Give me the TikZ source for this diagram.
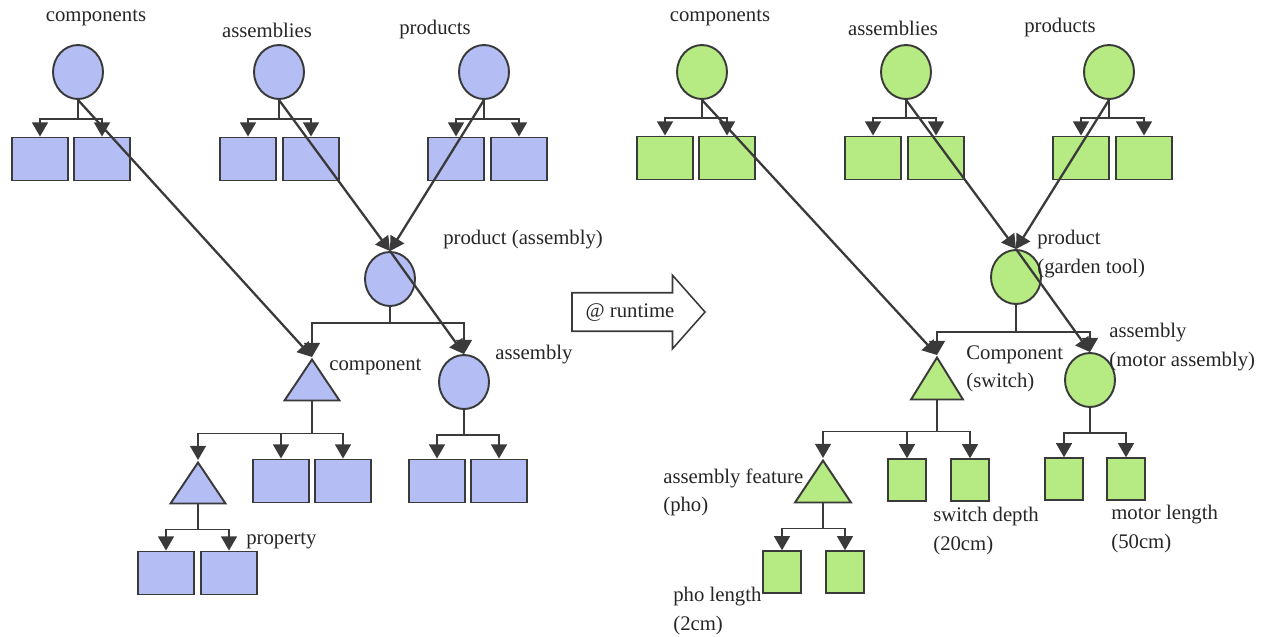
\documentclass[tikz,border=0pt]{standalone}
\usepackage{fontspec}
\setmainfont{Liberation Serif}
\usetikzlibrary{shapes.geometric,shapes.arrows,arrows.meta}
\definecolor{typeblue}{RGB}{180,190,245}
\definecolor{rungreen}{RGB}{182,234,130}
\definecolor{edge}{RGB}{58,58,58}

\begin{document}
\begin{tikzpicture}[x=0.02cm,y=-0.02cm,
  font=\fontsize{11.8}{16}\selectfont,
  kind/.style={ellipse,draw=edge,line width=1.1pt,minimum width=1cm,minimum height=1.08cm,inner sep=0},
  part/.style={rectangle,draw=edge,line width=1.1pt,minimum width=1.12cm,minimum height=0.86cm,inner sep=0},
  leaf/.style={rectangle,draw=edge,line width=1.1pt,minimum width=0.77cm,minimum height=0.83cm,inner sep=0},
  feat/.style={isosceles triangle,isosceles triangle stretches,shape border rotate=90,draw=edge,line width=1.1pt,
    minimum width=1.1cm,minimum height=0.82cm,inner sep=0,anchor=apex},
  tree/.style={draw=edge,line width=0.9pt,-{Triangle[length=8pt,width=9pt]}},
  link/.style={draw=edge,line width=1.3pt,-{Triangle[length=8pt,width=9pt]}},
  lbl/.style={anchor=west,align=left,inner sep=0,text=black!85},
  head/.style={inner sep=0,text=black!85}]
\useasboundingbox (0,0) rectangle (1271,636);

% Left: types
\node[head] (lcompsl) at (96,18) {components};
\node[head] (lasmsl) at (267,30) {assemblies};
\node[head] (lprodsl) at (435,30) {products};
\node[kind,fill=typeblue] (lcomps) at (78,72) {};
\node[kind,fill=typeblue] (lasms) at (279,72) {};
\node[kind,fill=typeblue] (lprods) at (484,72) {};
\node[part,fill=typeblue] (lcomps1) at (40,159) {};
\node[part,fill=typeblue] (lcomps2) at (102,159) {};
\node[part,fill=typeblue] (lasms1) at (248,159) {};
\node[part,fill=typeblue] (lasms2) at (311,159) {};
\node[part,fill=typeblue] (lprods1) at (456,159) {};
\node[part,fill=typeblue] (lprods2) at (519,159) {};
\foreach \p in {lcomps,lasms,lprods} {
    \foreach \i in {1,2}
        \draw[tree] (\p.south) -- ++(0,19) -| (\p\i.north);
}

% Left: product
\node[kind,fill=typeblue] (lprod) at (390,279) {};
\node[lbl] (lprodl) at (443,240) {product (assembly)};
\node[feat,fill=typeblue] (lcomp) at (312,357) {};
\node[lbl] (lcompl) at (329,367) {component};
\node[kind,fill=typeblue] (lasm) at (464,382) {};
\node[lbl] (lasml) at (495,355) {assembly};
\draw[tree] (lprod.south) -- ++(0,16) -| (lcomp.apex);
\draw[tree] (lprod.south) -- ++(0,16) -| (lasm.north);

\node[feat,fill=typeblue] (lfeat) at (198,460) {};
\node[part,fill=typeblue] (lcomp1) at (281,481) {};
\node[part,fill=typeblue] (lcomp2) at (343,481) {};
\draw[tree] (lcomp.south) -- ++(0,32) -| (lfeat.apex);
\foreach \i in {1,2}
    \draw[tree] (lcomp.south) -- ++(0,32) -| (lcomp\i.north);

\node[part,fill=typeblue] (lfeat1) at (166,573) {};
\node[part,fill=typeblue] (lfeat2) at (229,573) {};
\node[lbl] (lfeatl) at (246,541) {property};
\node[part,fill=typeblue] (lasm1) at (437,481) {};
\node[part,fill=typeblue] (lasm2) at (499,481) {};
\foreach \i in {1,2} {
    \draw[tree] (lfeat.south) -- ++(0,25) -| (lfeat\i.north);
    \draw[tree] (lasm.south) -- ++(0,25) -| (lasm\i.north);
}

% Runtime
\node[single arrow,draw=edge,line width=0.9pt,minimum height=2.66cm,single arrow head extend=0.35cm,
    single arrow tip angle=97,text height=8.5pt,text depth=2.5pt,inner ysep=5pt,text=black!85]
    (rt) at (630,312) {@ runtime};

% Right: instances
\node[head] (rcompsl) at (720,18) {components};
\node[head] (rasmsl) at (893,28) {assemblies};
\node[head] (rprodsl) at (1060,28) {products};
\node[kind,fill=rungreen] (rcomps) at (702,72) {};
\node[kind,fill=rungreen] (rasms) at (906,72) {};
\node[kind,fill=rungreen] (rprods) at (1109,72) {};
\node[part,fill=rungreen] (rcomps1) at (665,158) {};
\node[part,fill=rungreen] (rcomps2) at (727,158) {};
\node[part,fill=rungreen] (rasms1) at (873,158) {};
\node[part,fill=rungreen] (rasms2) at (936,158) {};
\node[part,fill=rungreen] (rprods1) at (1081,158) {};
\node[part,fill=rungreen] (rprods2) at (1144,158) {};
\foreach \p in {rcomps,rasms,rprods} {
    \foreach \i in {1,2}
        \draw[tree] (\p.south) -- ++(0,18) -| (\p\i.north);
}

% Right: garden tool
\node[kind,fill=rungreen] (rprod) at (1016,277) {};
\node[lbl] (rprodl) at (1037,254) {product\\(garden tool)};
\node[feat,fill=rungreen,minimum width=1.04cm,minimum height=0.84cm] (rcomp) at (937,355) {};
\node[lbl] (rcompl) at (966,369) {Component\\(switch)};
\node[kind,fill=rungreen] (rasm) at (1090,380) {};
\node[lbl] (rasml) at (1109,347) {assembly\\(motor assembly)};
\draw[tree] (rprod.south) -- ++(0,27) -| (rcomp.apex);
\draw[tree] (rprod.south) -- ++(0,27) -| (rasm.north);

\node[feat,fill=rungreen,minimum width=1.12cm,minimum height=0.84cm] (rfeat) at (823,458) {};
\node[lbl] (rfeatl) at (663,492) {assembly feature\\(pho)};
\node[leaf,fill=rungreen] (rcomp1) at (907,480) {};
\node[leaf,fill=rungreen] (rcomp2) at (970,480) {};
\node[lbl] (rcompv) at (933,531) {switch depth\\(20cm)};
\draw[tree] (rcomp.south) -- ++(0,31) -| (rfeat.apex);
\foreach \i in {1,2}
    \draw[tree] (rcomp.south) -- ++(0,31) -| (rcomp\i.north);

\node[leaf,fill=rungreen] (rfeat1) at (782,572) {};
\node[leaf,fill=rungreen] (rfeat2) at (845,572) {};
\node[lbl] (rfeatv) at (673,611) {pho length\\(2cm)};
\node[leaf,fill=rungreen] (rasm1) at (1064,479) {};
\node[leaf,fill=rungreen] (rasm2) at (1126,479) {};
\node[lbl] (rasmv) at (1111,529) {motor length\\(50cm)};
\foreach \i in {1,2} {
    \draw[tree] (rfeat.south) -- ++(0,25) -| (rfeat\i.north);
    \draw[tree] (rasm.south) -- ++(0,25) -| (rasm\i.north);
}

% Links
\draw[link] (lcomps.south) -- (lcomp.apex);
\draw[link] (lasms.south) -- (lprod.north);
\draw[link] (lprods.south) -- (lprod.north);
\draw[link] (lprod.north) -- (lasm.north);
\draw[link] (rcomps.south) -- (rcomp.apex);
\draw[link] (rasms.south) -- (rprod.north);
\draw[link] (rprods.south) -- (rprod.north);
\draw[link] (rprod.north) -- (rasm.north);
\end{tikzpicture}
\end{document}
